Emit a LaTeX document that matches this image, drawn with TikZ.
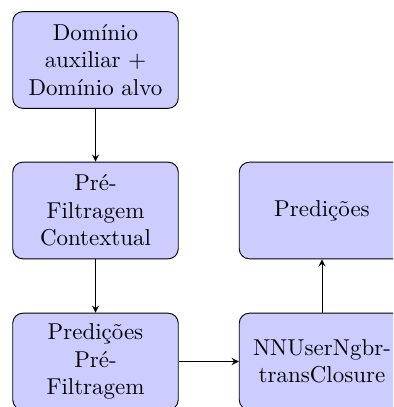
\documentclass[tikz,border=0pt]{standalone}
\usetikzlibrary{arrows}
\begin{document}
\begin{tikzpicture}[x=0.4356pt,y=-0.4356pt,
  blockbox/.style={draw=black, fill=blue!20, rounded corners=4.4pt, align=center,
    minimum width=72.1pt, minimum height=42.1pt, inner sep=1pt, font=\normalsize},
  conn/.style={-stealth, black}]
\useasboundingbox (0,0) rectangle (393,407);
\clip (0,0) rectangle (393,407);
\node[blockbox] (dom) at (95.5,60) {Domínio\\auxiliar +\\Domínio alvo};
\node[blockbox] (pre) at (95.5,210.5) {Pré-\\Filtragem\\Contextual};
\node[blockbox] (ppf) at (95.5,361.5) {Predições\\Pré-\\Filtragem};
\node[blockbox] (nn) at (322,361.5) {NNUserNgbr-\\transClosure};
\node[blockbox] (pred) at (322,210.5) {Predições};
\draw[conn] (dom) -- (pre);
\draw[conn] (pre) -- (ppf);
\draw[conn] (ppf) -- (nn);
\draw[conn] (nn) -- (pred);
\end{tikzpicture}
\end{document}
